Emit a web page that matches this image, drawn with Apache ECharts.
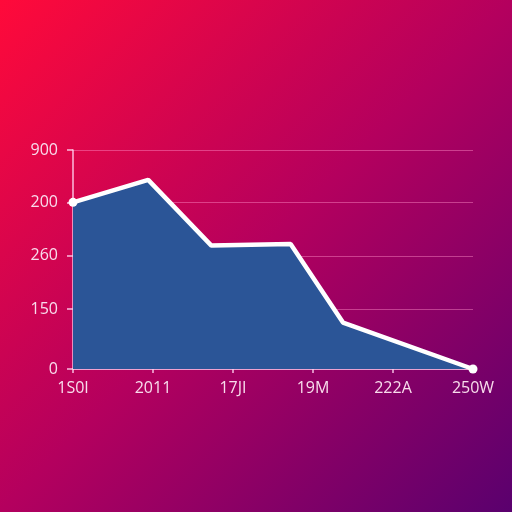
<!DOCTYPE html>
<html>
<head>
<meta charset="utf-8">
<script src="https://cdn.jsdelivr.net/npm/echarts@6/dist/echarts.min.js"></script>
<style>
html,body{margin:0;padding:0;width:512px;height:512px;overflow:hidden;}
#c{width:512px;height:512px;}
</style>
</head>
<body>
<div id="c"></div>
<script>
// Category labels along the x axis (positions 0..5)
const xLabels = ['1S0I', '2011', '17JI', '19M', '222A', '250W'];
// Y axis tick positions (in chart units) and their printed labels
const yTickValues = [0, 1.12, 2.12, 3.12, 4.1];
const yTickLabels = ['0', '150', '260', '200', '900'];
// Series: x positions (in category units) and y values (chart units)
const seriesX = [0, 0.94, 1.73, 2.72, 3.375, 5];
const seriesY = [3.12, 3.54, 2.31, 2.34, 0.87, 0];

const lastIdx = seriesX.length - 1;
const data = seriesX.map((x, i) => ({
  value: [x, seriesY[i]],
  symbol: (i === 0 || i === lastIdx) ? 'circle' : 'none'
}));

const labelColor = '#f8dcec';
const axisColor = 'rgba(255,210,238,0.9)';
const chart = echarts.init(document.getElementById('c'));
chart.setOption({
  animation: false,
  backgroundColor: {
    type: 'linear', x: 0, y: 0, x2: 1, y2: 1,
    colorStops: [
      { offset: 0, color: '#ff0a3a' },
      { offset: 0.5, color: '#b4005e' },
      { offset: 1, color: '#5a006e' }
    ]
  },
  grid: { left: 73, right: 39, top: 150, bottom: 143, containLabel: false },
  xAxis: {
    type: 'value', min: 0, max: 5, interval: 1,
    axisLine: { show: true, lineStyle: { color: axisColor, width: 1.5 } },
    axisTick: { show: true, length: 4, lineStyle: { color: axisColor, width: 1.5 } },
    splitLine: { show: false },
    axisLabel: {
      color: labelColor, fontFamily: 'Open Sans', fontSize: 16, margin: 11,
      formatter: v => xLabels[Math.round(v)] || ''
    }
  },
  yAxis: {
    type: 'value', min: 0, max: 4.1,
    axisLine: { show: true, lineStyle: { color: axisColor, width: 1.5 } },
    axisTick: { show: true, length: 6, customValues: yTickValues, lineStyle: { color: axisColor, width: 1.5 } },
    splitLine: { show: true, lineStyle: { color: 'rgba(255,140,200,0.45)', width: 1 } },
    axisLabel: {
      color: labelColor, fontFamily: 'Open Sans', fontSize: 16, margin: 15,
      customValues: yTickValues,
      formatter: v => {
        const i = yTickValues.findIndex(t => Math.abs(t - v) < 1e-6);
        return i >= 0 ? yTickLabels[i] : '';
      }
    }
  },
  series: [{
    type: 'line',
    data: data,
    symbolSize: 9,
    itemStyle: { color: '#ffffff' },
    lineStyle: { color: '#ffffff', width: 4.5 },
    areaStyle: { color: '#2b5597', opacity: 1 },
    z: 3
  }]
});
</script>
</body>
</html>
